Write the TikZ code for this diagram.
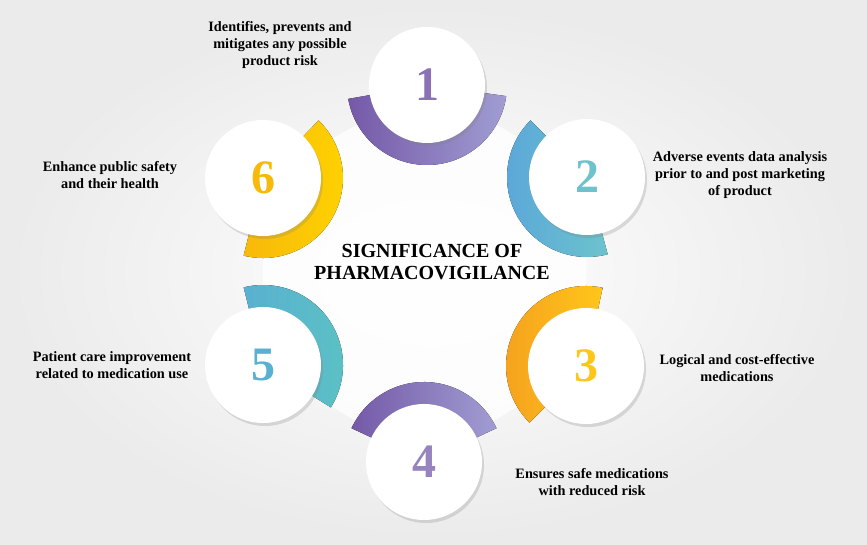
\documentclass[tikz,border=0pt]{standalone}
\usepackage{fontspec}
\setmainfont{Liberation Serif}
\usetikzlibrary{shadows}
\usetikzlibrary{calc}

\definecolor{purpA}{HTML}{7559A8}
\definecolor{purpB}{HTML}{A09DD2}
\definecolor{blueA}{HTML}{5AA6DA}
\definecolor{blueB}{HTML}{6CC3CC}
\definecolor{orngA}{HTML}{F5A11E}
\definecolor{orngB}{HTML}{FFC61A}
\definecolor{tealA}{HTML}{5BC2C4}
\definecolor{tealB}{HTML}{5AB0D0}
\definecolor{yellA}{HTML}{FFD200}
\definecolor{yellB}{HTML}{F7B90A}

\tikzset{
  disc/.style={circle, fill=white, minimum size=116pt, inner sep=0pt,
    drop shadow={shadow xshift=2pt, shadow yshift=-3pt, opacity=0.25},
    font=\bfseries\fontsize{48}{48}\selectfont},
  note/.style={align=center, font=\bfseries\fontsize{14.3}{17}\selectfont},
}

% arc around a circle: centre, start angle, end angle, left colour, right colour
\newcommand{\ringarc}[5]{%
  \fill[left color=#4, right color=#5]
    ($(#1)+(#2:80pt)$) arc[start angle=#2, end angle=#3, radius=80pt]
    -- ($(#1)+(#3:52pt)$) arc[start angle=#3, end angle=#2, radius=52pt] -- cycle;}

\begin{document}
\begin{tikzpicture}[x=1pt,y=1pt]
\shade[inner color=white, outer color=black!8] (0,0) rectangle (867,544);
\useasboundingbox (0,0) rectangle (867,544);

% centres
\coordinate (c1) at (427,459);
\coordinate (c2) at (587,367);
\coordinate (c3) at (586,178);
\coordinate (c4) at (424,82);
\coordinate (c5) at (263,179);
\coordinate (c6) at (263,366);

% light hub
\fill[white, opacity=0.8] (c1) -- (c2) -- (c3) -- (c4) -- (c5) -- (c6) -- cycle;

% arcs
\ringarc{c1}{190}{352}{purpA}{purpB}
\ringarc{c2}{135}{285}{blueA}{blueB}
\ringarc{c3}{78}{225}{orngA}{orngB}
\ringarc{c4}{25}{155}{purpA}{purpB}
\ringarc{c5}{-32}{104}{tealB}{tealA}
\ringarc{c6}{-104}{46}{yellB}{yellA}

% circles
\node[disc, text=purpA!85] (n1) at (c1) {1};
\node[disc, text=blueB] (n2) at (c2) {2};
\node[disc, text=orngB] (n3) at (c3) {3};
\node[disc, text=purpA!75] (n4) at (c4) {4};
\node[disc, text=tealB] (n5) at (c5) {5};
\node[disc, text=yellB] (n6) at (c6) {6};

% texts
\node[align=center, font=\bfseries\fontsize{20}{22}\selectfont] (title) at (432,282)
  {SIGNIFICANCE OF\\PHARMACOVIGILANCE};
\node[note] (t1) at (280,499) {Identifies, prevents and\\mitigates any possible\\product risk};
\node[note] (t2) at (740,369) {Adverse events data analysis\\prior to and post marketing\\of product};
\node[note] (t3) at (737,176) {Logical and cost-effective\\medications};
\node[note] (t4) at (592,62) {Ensures safe medications\\with reduced risk};
\node[note] (t5) at (112,179) {Patient care improvement\\related to medication use};
\node[note] (t6) at (110,369) {Enhance public safety\\and their health};
\end{tikzpicture}
\end{document}
